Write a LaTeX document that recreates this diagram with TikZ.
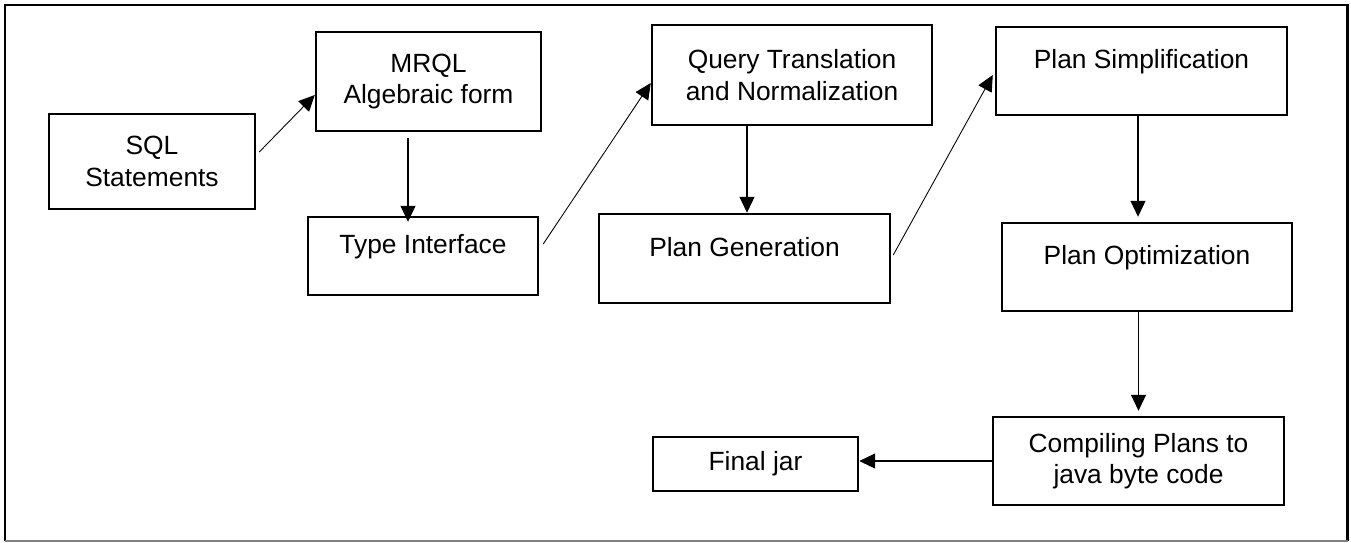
\documentclass[tikz,border=0pt]{standalone}
\usepackage{fontspec}
\setmainfont{Liberation Sans}
\usetikzlibrary{arrows.meta}

\begin{document}
\begin{tikzpicture}[
	> = {Triangle[length = 0.32cm, width = 0.3cm]},
	box/.style = {draw, line width = 1.4pt, inner sep = 0pt, align = center, font = \fontsize{15}{18}\selectfont},
	topbox/.style = {box, text height = 0.4cm, text depth = 0.5cm},
	flow/.style = {->, line width = 0.6pt}
	]
	
	\useasboundingbox (0, 0) rectangle (27.02, -10.84);
	
	% The frame
	
	\draw [line width = 1.2pt] (0.1, -10.82) -- (0.1, -0.1) -- (26.95, -0.1) -- (26.95, -10.82);
	\draw [gray, line width = 0.6pt] (0.1, -10.82) -- (26.95, -10.82);
	
	% The stages
	
	\node [box, minimum width = 4.12cm, minimum height = 1.9cm] (sql) at (3.04, -3.23) {SQL\\Statements};
	\node [box, minimum width = 4.5cm, minimum height = 1.98cm] (mrql) at (8.57, -1.63) {MRQL\\Algebraic form};
	\node [topbox, minimum width = 4.6cm, minimum height = 1.56cm] (type) at (8.46, -5.12) {Type Interface};
	\node [box, minimum width = 5.6cm, minimum height = 2cm] (qtn) at (15.84, -1.5) {Query Translation\\and Normalization};
	\node [topbox, minimum width = 5.82cm, minimum height = 1.78cm] (gen) at (14.89, -5.17) {Plan Generation};
	\node [topbox, minimum width = 5.82cm, minimum height = 1.76cm] (simp) at (22.83, -1.42) {Plan Simplification};
	\node [topbox, minimum width = 5.8cm, minimum height = 1.76cm] (opt) at (22.94, -5.34) {Plan Optimization};
	\node [box, minimum width = 5.82cm, minimum height = 1.76cm] (comp) at (22.77, -9.22) {Compiling Plans to\\java byte code};
	\node [box, minimum width = 4.1cm, minimum height = 1.08cm] (jar) at (15.11, -9.28) {Final jar};
	
	% The flow between them
	
	\draw [flow, line width = 0.5pt] ([shift = {(0.06, 0.19)}] sql.east) -- ([yshift = -0.27cm] mrql.west);
	\draw [flow] ([shift = {(-0.41, -0.12)}] mrql.south) -- ([shift = {(-0.41, -0.12)}] mrql.south |- type.north);
	\draw [flow, line width = 0.5pt] ([shift = {(0.08, 0.24)}] type.east) -- ([yshift = -0.16cm] qtn.west);
	\draw [flow] ([xshift = 0.05cm] gen.north |- qtn.south) -- ([xshift = 0.05cm] gen.north);
	\draw [flow, line width = 0.5pt] ([shift = {(0.04, 0.07)}] gen.east) -- ([shift = {(-0.04, -0.08)}] simp.west);
	\draw [flow, shorten > = 0.1cm] ([xshift = -0.07cm] simp.south) -- ([xshift = -0.07cm] simp.south |- opt.north);
	\draw [flow, shorten > = 0.1cm] (comp.north |- opt.south) -- (comp.north);
	\draw [flow] (comp.west) -- (jar.east |- comp.west);

\end{tikzpicture}
\end{document}
